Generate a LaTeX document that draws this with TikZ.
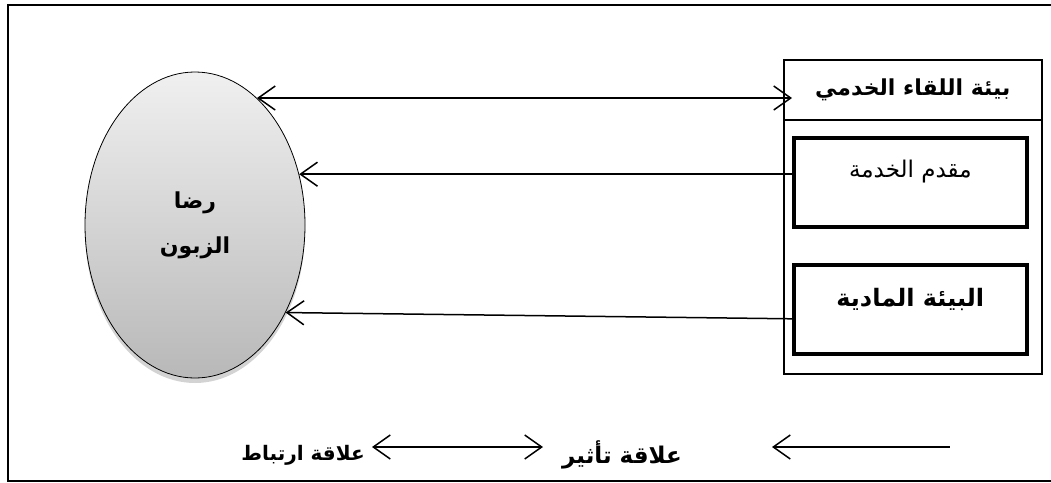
\documentclass[tikz,border=0pt]{standalone}
\usepackage{fontspec}
\usepackage{tikz}
\usetikzlibrary{positioning,shapes.geometric,arrows.meta,shadows,calc}
\newfontfamily\arabicfont[Script=Arabic]{DejaVu Sans}
\TeXXeTstate=1
\definecolor{elltop}{HTML}{F0F0F0}
\definecolor{ellbot}{HTML}{B8B8B8}
\newcommand{\artxt}[1]{\beginR #1\endR}
\begin{document}
\begin{tikzpicture}[x=1pt, y=-1pt,
  frm/.style={line width=1.6pt},
  envbox/.style={rectangle, draw, line width=1.6pt, anchor=north west, inner sep=0pt, minimum width=258pt},
  subbox/.style={rectangle, draw, line width=3.6pt, anchor=north west, inner sep=0pt,
    minimum width=233pt, minimum height=89pt},
  txt/.style={font=\arabicfont\fontsize{23}{28}\selectfont, inner sep=0pt},
  btxt/.style={font=\arabicfont\bfseries\fontsize{22}{26}\selectfont, inner sep=0pt},
  arr/.style={{Straight Barb[length=17pt,width=24pt]}-, line width=1.5pt},
  darr/.style={{Straight Barb[length=17pt,width=24pt]}-{Straight Barb[length=17pt,width=24pt]}, line width=1.5pt}
]
\useasboundingbox (0,0) rectangle (1051,482);
% outer frame, open on the right
\draw[frm] (1060,5) -- (8,5) -- (8,481) -- (1060,481);

% customer satisfaction
\node[ellipse, draw, line width=0.8pt, inner sep=0pt, minimum width=220pt, minimum height=306pt,
  top color=elltop, bottom color=ellbot, align=center,
  drop shadow={shadow xshift=0pt, shadow yshift=-5pt, opacity=0.35},
  font=\arabicfont\bfseries\fontsize{22}{45}\selectfont] (ell) at (195,225)
  {\artxt{رضا}\\\artxt{الزبون}};

% service encounter environment
\node[envbox, minimum height=314pt] (env) at (783,59) {};
\node[envbox, minimum height=60pt, btxt] (hdr) at (783,59) {\artxt{بيئة اللقاء الخدمي}};
\node[subbox] (mq) at (792,136) {};
\node[subbox] (bm) at (792,263) {};
\node[txt] (mqt) at ($(mq.center)+(0,-11)$) {\artxt{مقدم الخدمة}};
\node[btxt, font=\arabicfont\bfseries\fontsize{24}{28}\selectfont] (bmt) at ($(bm.center)+(0,-10)$) {\artxt{البيئة المادية}};

\draw[darr, shorten >=-9pt] (ell.64) -- (ell.64 -| hdr.west);
\draw[arr] (ell.26) -- (mq.west |- ell.26);
\draw[arr] (ell.-44) -- ([yshift=-9.5pt]bm.west);

% legend
\node[btxt, font=\arabicfont\bfseries\fontsize{20}{24}\selectfont] (lg1) at (303,455) {\artxt{علاقة ارتباط}};
\node[btxt, font=\arabicfont\bfseries\fontsize{23}{26}\selectfont] (lg2) at (622,455) {\artxt{علاقة تأثير}};
\coordinate (d1) at (372,447);
\coordinate (d2) at (543,447);
\coordinate (e1) at (772,447);
\coordinate (e2) at (950,447);
\draw[darr] (d1) -- (d2);
\draw[arr] (e1) -- (e2);
\end{tikzpicture}
\end{document}
